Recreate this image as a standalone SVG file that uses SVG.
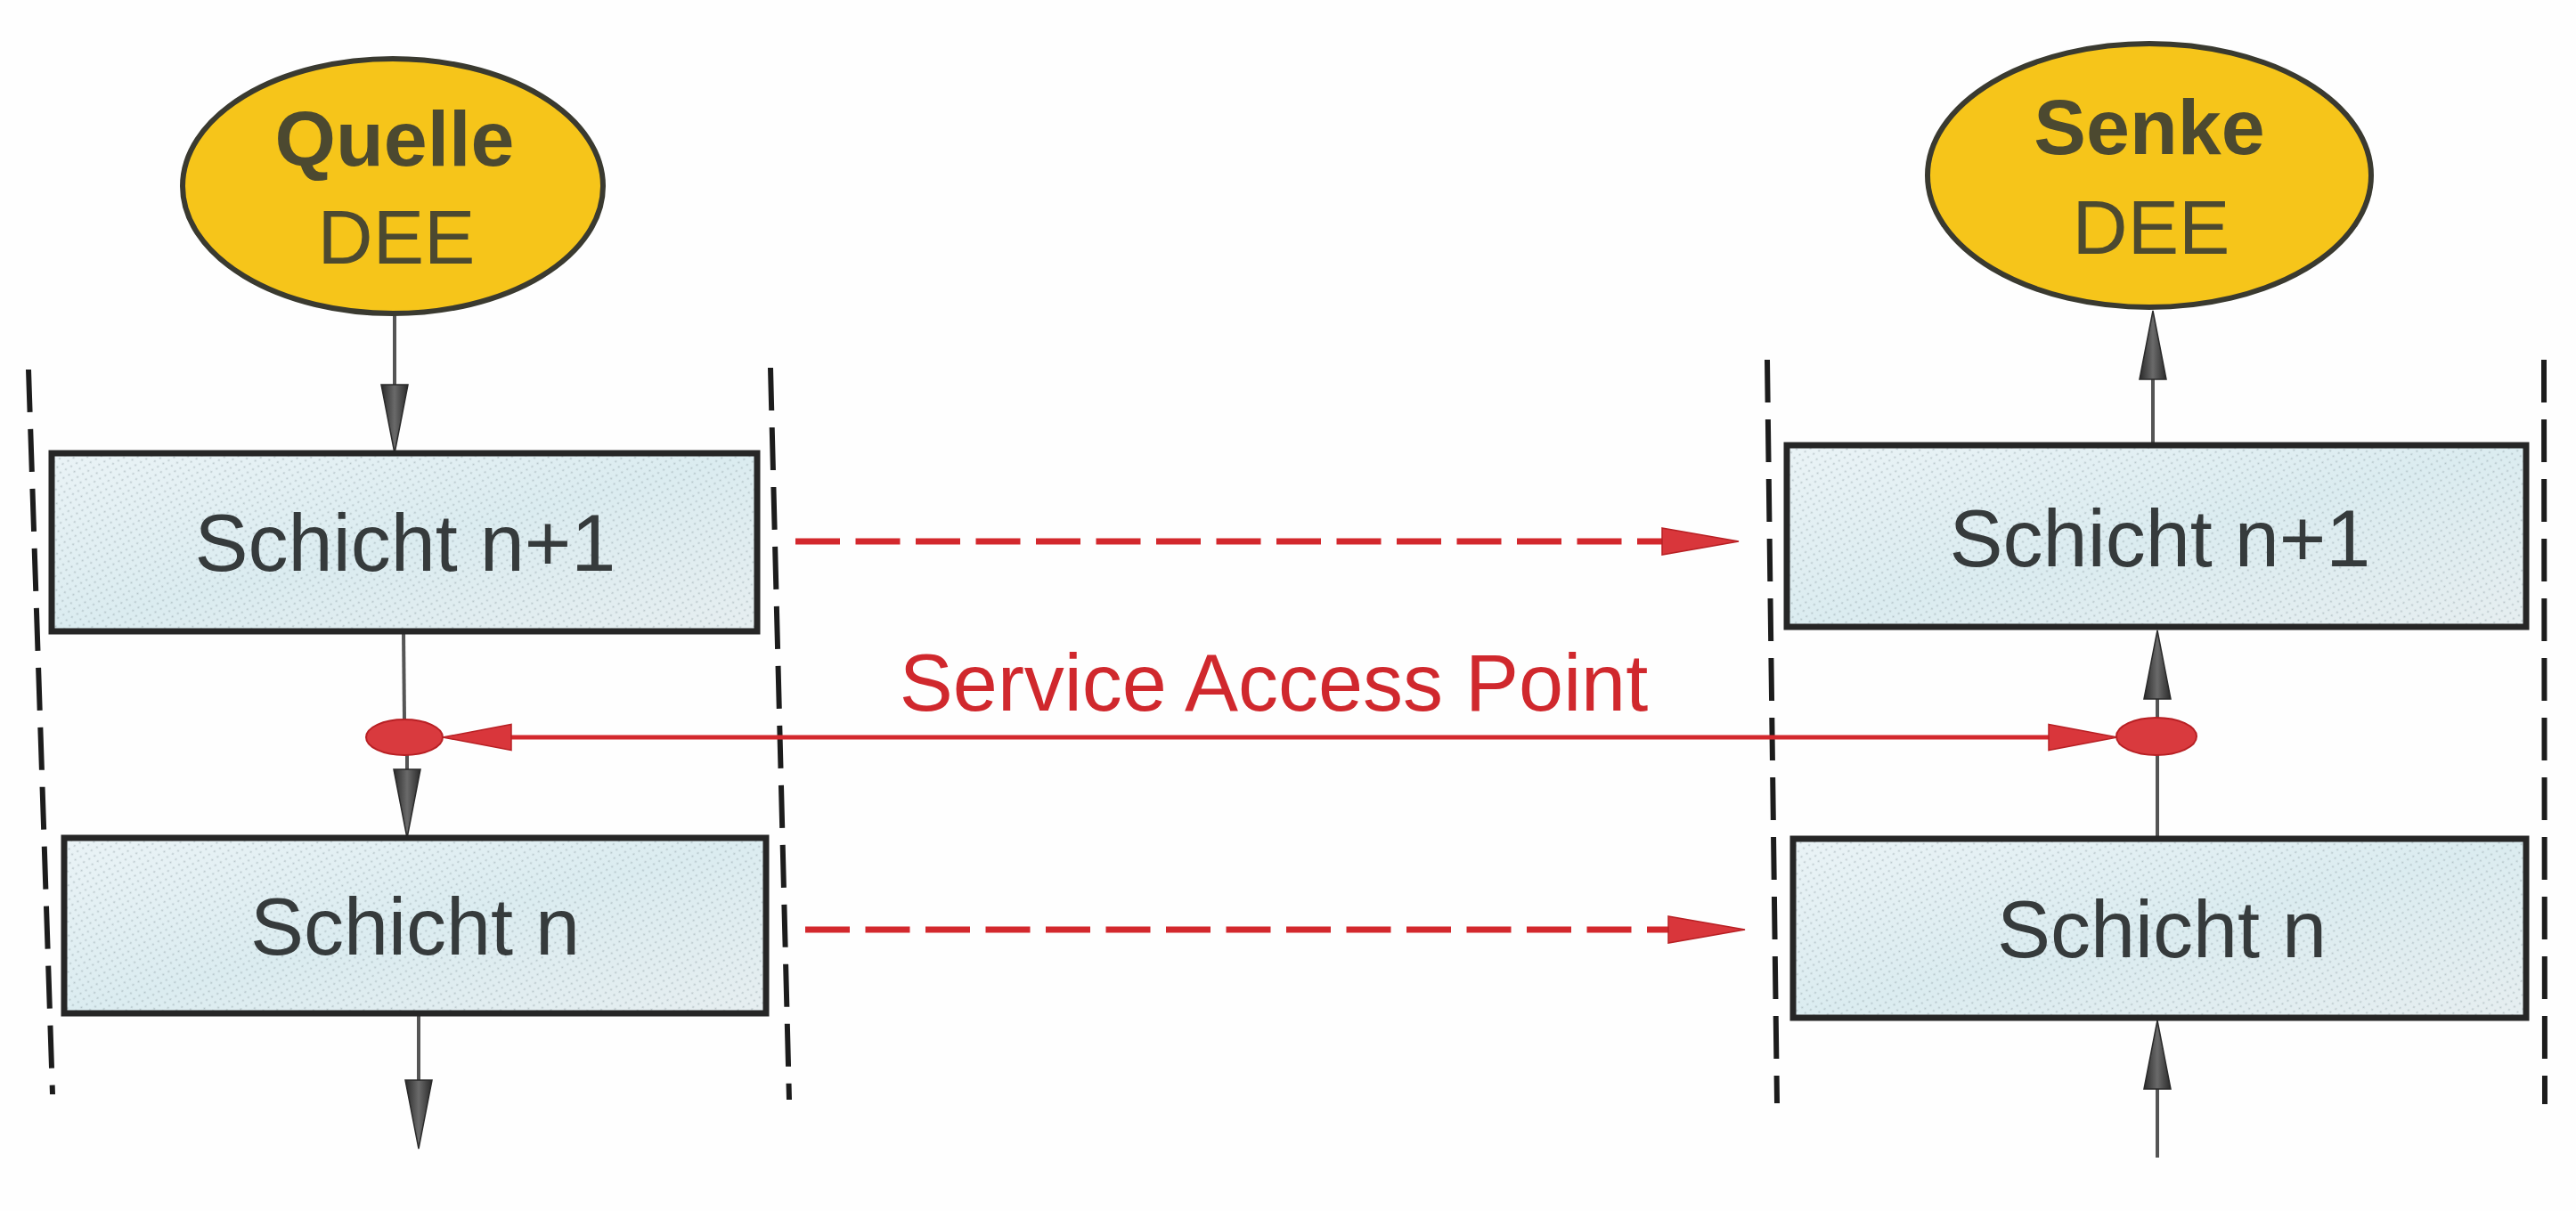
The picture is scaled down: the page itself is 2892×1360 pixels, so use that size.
<svg xmlns="http://www.w3.org/2000/svg" width="2892" height="1360" viewBox="0 0 2892 1360">
  <style>
    .bg { fill: #fefefe; }
    .sep { fill: none; stroke: #1c1c1c; stroke-width: 6; stroke-dasharray: 48 19; }
    .ell { fill: #f6c51a; stroke: #3a3a30; stroke-width: 6; }
    .etxt-b { font-family: "Liberation Sans", Arial, sans-serif; font-weight: bold; font-size: 88px; fill: #4c4930; text-anchor: middle; }
    .etxt { font-family: "Liberation Sans", Arial, sans-serif; font-size: 86px; fill: #4c4930; text-anchor: middle; }
    .box-bg { fill: url(#gBox); }
    .box-dots { fill: url(#dots); }
    .box-frame { fill: none; stroke: #262626; stroke-width: 7; }
    .btxt { font-family: "Liberation Sans", Arial, sans-serif; font-size: 90px; fill: #363b3c; text-anchor: middle; }
    .flow { fill: none; stroke: #555; stroke-width: 4; }
    .flow-a { fill: none; stroke: #555; stroke-width: 4; marker-end: url(#ahBlack); }
    .red-dash { fill: none; stroke: #d3282d; stroke-width: 7; stroke-dasharray: 50 17.5; marker-end: url(#ahRedDash); }
    .sap-line { fill: none; stroke: #d3282d; stroke-width: 5; marker-start: url(#ahRed); marker-end: url(#ahRed); }
    .sap-dot { fill: #d93a3e; stroke: #b82024; stroke-width: 2; }
    .sap-txt { font-family: "Liberation Sans", Arial, sans-serif; font-size: 90px; fill: #d0282d; text-anchor: middle; }
  </style>
  <defs>
    <linearGradient id="gBox" x1="0" y1="0" x2="1" y2="1">
      <stop offset="0" stop-color="#eaf3f6"/>
      <stop offset="0.5" stop-color="#dbecf0"/>
      <stop offset="1" stop-color="#e6eef0"/>
    </linearGradient>
    <pattern id="dots" width="7" height="7" patternUnits="userSpaceOnUse" patternTransform="rotate(-30)">
      <circle cx="3.5" cy="3.5" r="1.1" fill="#7f9095" fill-opacity="0.45"/>
    </pattern>
    <linearGradient id="gArrow" x1="0" y1="0" x2="0" y2="1">
      <stop offset="0" stop-color="#2a2a2a"/>
      <stop offset="0.5" stop-color="#6a6a6a"/>
      <stop offset="1" stop-color="#2a2a2a"/>
    </linearGradient>
    <marker id="ahBlack" markerUnits="userSpaceOnUse" markerWidth="80" markerHeight="32" refX="0" refY="15" orient="auto" overflow="visible">
      <path d="M0,0 L77,15 L0,30 Z" fill="url(#gArrow)" stroke="#2a2a2a" stroke-width="1.5"/>
    </marker>
    <marker id="ahRed" markerUnits="userSpaceOnUse" markerWidth="80" markerHeight="32" refX="0" refY="14.5" orient="auto-start-reverse" overflow="visible">
      <path d="M0,0 L77,14.5 L0,29 Z" fill="#d9363b" stroke="#b82024" stroke-width="1.5"/>
    </marker>
    <marker id="ahRedDash" markerUnits="userSpaceOnUse" markerWidth="88" markerHeight="32" refX="0" refY="15" orient="auto" overflow="visible">
      <path d="M0,0 L86,15 L0,30 Z" fill="#d9363b" stroke="#b82024" stroke-width="1.5"/>
    </marker>
  </defs>

  <rect class="bg" x="0" y="0" width="2892" height="1360"/>

  <g id="boundaries">
    <path class="sep" d="M32,415 L59,1229"/>
    <path class="sep" d="M865,413 L886,1235"/>
    <path class="sep" d="M1984,404 L1995,1239"/>
    <path class="sep" d="M2856,404 L2857,1240"/>
  </g>

  <g id="connectors">
    <!-- left (sending) side -->
    <path class="flow-a" d="M443,354 L443,432"/>
    <path class="flow" d="M453,709 L454,808"/>
    <path class="flow-a" d="M457,848 L457,864"/>
    <path class="flow-a" d="M470,1138 L470,1213"/>
    <!-- right (receiving) side -->
    <path class="flow-a" d="M2417,500 L2417,426"/>
    <path class="flow-a" d="M2422,807 L2422,785"/>
    <path class="flow" d="M2422,942 L2422,848"/>
    <path class="flow-a" d="M2422,1300 L2422,1223"/>
    <!-- peer-to-peer (virtual) communication -->
    <path class="red-dash" d="M893,608 L1866,608"/>
    <path class="red-dash" d="M904,1044 L1873,1044"/>
    <!-- service access point link -->
    <path class="sap-line" d="M574,828 L2300,828"/>
  </g>

  <g id="node-quelle">
    <ellipse class="ell" cx="441" cy="209" rx="236" ry="143"/>
    <text class="etxt-b" x="443" y="186">Quelle</text>
    <text class="etxt" x="445" y="296">DEE</text>
  </g>

  <g id="node-senke">
    <ellipse class="ell" cx="2413" cy="197" rx="249" ry="148"/>
    <text class="etxt-b" x="2413" y="173">Senke</text>
    <text class="etxt" x="2415" y="285">DEE</text>
  </g>

  <g id="node-left-schicht-n1">
    <rect class="box-bg" x="58" y="509" width="792" height="200"/>
    <rect class="box-dots" x="58" y="509" width="792" height="200"/>
    <rect class="box-frame" x="58" y="509" width="792" height="200"/>
    <text class="btxt" x="455" y="641">Schicht n+1</text>
  </g>

  <g id="node-left-schicht-n">
    <rect class="box-bg" x="72" y="941" width="788" height="197"/>
    <rect class="box-dots" x="72" y="941" width="788" height="197"/>
    <rect class="box-frame" x="72" y="941" width="788" height="197"/>
    <text class="btxt" x="466" y="1072">Schicht n</text>
  </g>

  <g id="node-right-schicht-n1">
    <rect class="box-bg" x="2006" y="500" width="830" height="204"/>
    <rect class="box-dots" x="2006" y="500" width="830" height="204"/>
    <rect class="box-frame" x="2006" y="500" width="830" height="204"/>
    <text class="btxt" x="2425" y="636">Schicht n+1</text>
  </g>

  <g id="node-right-schicht-n">
    <rect class="box-bg" x="2013" y="942" width="823" height="201"/>
    <rect class="box-dots" x="2013" y="942" width="823" height="201"/>
    <rect class="box-frame" x="2013" y="942" width="823" height="201"/>
    <text class="btxt" x="2427" y="1075">Schicht n</text>
  </g>

  <g id="node-sap-left">
    <ellipse class="sap-dot" cx="454" cy="828" rx="43" ry="20"/>
  </g>
  <g id="node-sap-right">
    <ellipse class="sap-dot" cx="2421" cy="827" rx="45" ry="21"/>
  </g>

  <g id="label-sap">
    <text class="sap-txt" x="1430" y="798">Service Access Point</text>
  </g>
</svg>
